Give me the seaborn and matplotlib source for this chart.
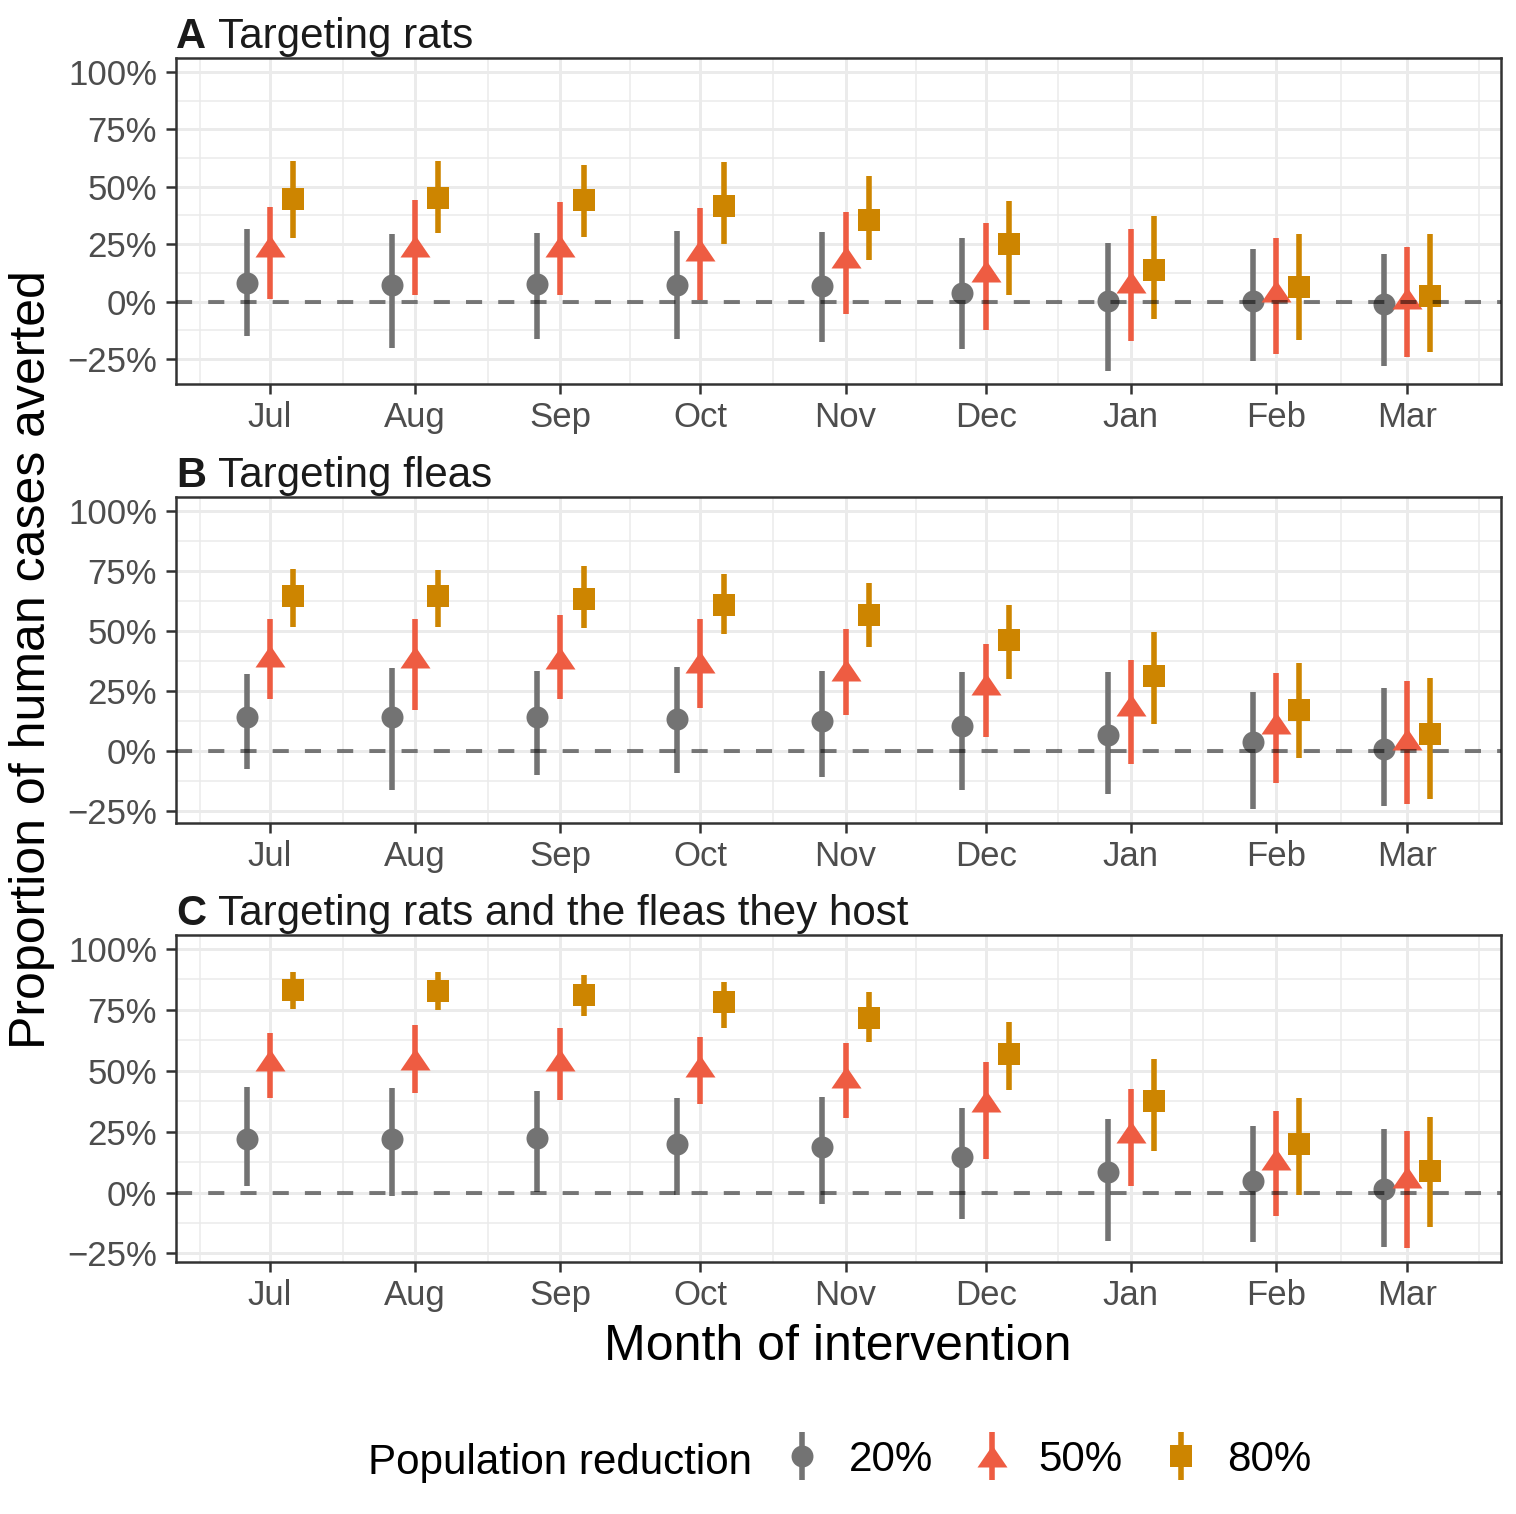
import numpy as np
import pandas as pd
import matplotlib
matplotlib.use("Agg")
import matplotlib.pyplot as plt
import matplotlib.dates as mdates
import matplotlib.transforms as mtransforms
from matplotlib.lines import Line2D
from matplotlib.legend_handler import HandlerTuple
from matplotlib.ticker import PercentFormatter, FixedLocator
import seaborn as sns

#: months of intervention (first day of each month)
months = ["2021-07-01", "2021-08-01", "2021-09-01", "2021-10-01", "2021-11-01",
          "2021-12-01", "2022-01-01", "2022-02-01", "2022-03-01"]
groups = ["20%", "50%", "80%"]

#: A - targeting rats (percent of human cases averted)
rats_mid = {"20%": [8.3, 7.1, 7.7, 7.3, 6.8, 3.9, 0.3, 0.3, -1.1],
            "50%": [24.4, 24.2, 24.4, 22.5, 19.3, 13.4, 8.4, 4.5, 1.8],
            "80%": [44.7, 45.3, 44.1, 41.6, 35.4, 25.2, 14.0, 6.4, 2.4]}
rats_lo = {"20%": [-14.8, -20.2, -16.3, -16.3, -17.4, -20.6, -30.1, -25.8, -28.0],
           "50%": [1.2, 2.8, 3.1, 0.7, -5.4, -12.3, -17.1, -22.8, -24.0],
           "80%": [27.9, 29.8, 28.3, 25.1, 18.2, 2.9, -7.7, -16.6, -21.8]}
rats_hi = {"20%": [31.5, 29.5, 29.8, 30.9, 30.1, 27.5, 25.4, 23.1, 20.8],
           "50%": [41.4, 44.3, 43.3, 40.7, 39.2, 34.2, 31.7, 27.9, 24.0],
           "80%": [61.0, 61.3, 59.6, 60.7, 54.5, 43.6, 37.3, 29.5, 29.5]}

#: B - targeting fleas
fleas_mid = {"20%": [13.9, 13.9, 14.2, 13.2, 12.4, 10.3, 6.5, 3.5, 0.7],
             "50%": [39.3, 39.0, 38.8, 37.1, 33.7, 27.7, 19.0, 11.4, 4.8],
             "80%": [64.4, 64.4, 63.3, 60.9, 56.4, 46.0, 31.2, 17.1, 7.1]}
fleas_lo = {"20%": [-7.8, -16.4, -10.3, -9.2, -10.8, -16.2, -18.2, -24.4, -23.2],
            "50%": [21.5, 17.0, 21.5, 17.7, 15.0, 5.7, -5.5, -13.3, -22.2],
            "80%": [51.5, 51.5, 51.3, 48.8, 43.3, 29.7, 11.1, -3.2, -20.3]}
fleas_hi = {"20%": [32.0, 34.3, 33.2, 34.9, 33.2, 32.9, 32.9, 24.6, 26.0],
            "50%": [54.7, 54.7, 56.5, 54.7, 50.8, 44.6, 37.8, 32.2, 29.2],
            "80%": [75.7, 75.3, 77.1, 73.5, 69.7, 60.7, 49.3, 36.4, 30.4]}

#: C - targeting rats and the fleas they host
both_mid = {"20%": [21.9, 21.9, 22.3, 20.0, 18.9, 14.5, 8.6, 4.9, 1.5],
            "50%": [54.2, 54.8, 54.2, 52.0, 47.3, 37.7, 24.7, 13.6, 6.2],
            "80%": [83.1, 82.7, 81.1, 78.1, 71.6, 56.9, 37.7, 19.8, 8.8]}
both_lo = {"20%": [2.5, -1.6, 0.2, -0.9, -4.8, -10.9, -19.7, -20.4, -22.4],
           "50%": [39.0, 40.8, 38.1, 36.4, 30.6, 13.7, 2.8, -9.6, -22.9],
           "80%": [75.5, 75.1, 72.3, 67.5, 61.6, 41.9, 17.1, -0.9, -14.2]}
both_hi = {"20%": [43.3, 43.1, 41.5, 39.0, 39.2, 34.7, 30.1, 27.5, 26.2],
           "50%": [65.5, 68.9, 67.4, 63.8, 61.4, 53.7, 42.6, 33.3, 25.3],
           "80%": [90.5, 90.5, 89.4, 86.3, 82.2, 70.0, 54.8, 38.8, 31.2]}

panels = [("A", "Targeting rats", rats_mid, rats_lo, rats_hi, (-0.358, 1.06)),
          ("B", "Targeting fleas", fleas_mid, fleas_lo, fleas_hi, (-0.301, 1.057)),
          ("C", "Targeting rats and the fleas they host", both_mid, both_lo, both_hi, (-0.285, 1.057))]

colors = {"20%": "#737373", "50%": "#EE5C42", "80%": "#CD8500"}
tri = [(-1, -0.733), (1, -0.733), (0, 0.733)]
markers = {"20%": "o", "50%": tri, "80%": "s"}
sizes = {"20%": 251, "50%": 467, "80%": 267}
dodge = {"20%": -5, "50%": 0, "80%": 5}   #: days


def long_df(mid, lo, hi):
    rows = []
    for g in groups:
        for m, v, l, h in zip(months, mid[g], lo[g], hi[g]):
            rows.append({"month": pd.Timestamp(m), "group": g,
                         "x": pd.Timestamp(m) + pd.Timedelta(days=dodge[g]),
                         "mid": v / 100, "lo": l / 100, "hi": h / 100})
    return pd.DataFrame(rows)


sns.set_style("white")
plt.rcParams['font.family'] = ['Liberation Sans', 'DejaVu Sans']
plt.rcParams['axes.unicode_minus'] = True
plt.rcParams['text.color'] = 'black'

fig = plt.figure(figsize=(15.16, 15.14), dpi=100)
W, H = 1516, 1514
tops = [58, 497, 935]
bottoms = [384, 823, 1262]
left, right = 176, 1501

first = mdates.date2num(pd.Timestamp(months[0]))
last = mdates.date2num(pd.Timestamp(months[-1]))
edges = mdates.date2num(pd.date_range("2021-06-01", "2022-04-01", freq="MS"))
minor_x = (edges[:-1] + edges[1:]) / 2

for (letter, title, mid, lo, hi, ylim), top, bot in zip(panels, tops, bottoms):
    ax = fig.add_axes([left / W, 1 - bot / H, (right - left) / W, (bot - top) / H])
    df = long_df(mid, lo, hi)
    for k, g in enumerate(groups):
        d = df[df.group == g]
        ax.vlines(d["x"], d["lo"], d["hi"], color=colors[g], lw=4.0, zorder=3 + 2 * k)
        sns.scatterplot(data=d, x="x", y="mid", color=colors[g], marker=markers[g],
                        s=sizes[g], linewidth=0, ax=ax, zorder=4 + 2 * k, legend=False)
    ax.axhline(0, color="black", alpha=0.5, lw=2.9, ls=(0, (4, 4)), zorder=20)

    ax.set_xlim(first - 20.1, last + 20.1)
    ax.set_ylim(*ylim)
    ax.xaxis.set_major_locator(mdates.MonthLocator())
    ax.xaxis.set_major_formatter(mdates.DateFormatter("%b"))
    ax.xaxis.set_minor_locator(FixedLocator(minor_x))
    ax.yaxis.set_major_locator(FixedLocator([-0.25, 0, 0.25, 0.5, 0.75, 1.0]))
    ax.yaxis.set_minor_locator(FixedLocator([-0.375, -0.125, 0.125, 0.375, 0.625, 0.875]))
    ax.yaxis.set_major_formatter(PercentFormatter(xmax=1, decimals=0))
    ax.set_axisbelow(True)
    ax.grid(which="major", color="#EBEBEB", lw=2.1)
    ax.grid(which="minor", color="#EBEBEB", lw=1.1)
    ax.tick_params(which="major", length=7.2, width=1.8, color="#333333",
                   labelsize=25, labelcolor="#4D4D4D", bottom=True, left=True)
    ax.tick_params(axis="x", pad=5.0)
    ax.tick_params(axis="y", pad=6.5)
    ax.tick_params(which="minor", length=0)
    for sp in ax.spines.values():
        sp.set_color("#333333")
        sp.set_linewidth(1.8)
    ax.set_xlabel("")
    ax.set_ylabel("")

    tr = mtransforms.offset_copy(ax.transAxes, fig=fig, x=0, y=7.0, units="points")
    ax.text(0, 1, letter, transform=tr, fontsize=30, fontweight="bold",
            color="#1A1A1A", ha="left", va="baseline")
    tr2 = mtransforms.offset_copy(ax.transAxes, fig=fig, x=30.2, y=7.0, units="points")
    ax.text(0, 1, title, transform=tr2, fontsize=30.3, color="#1A1A1A",
            ha="left", va="baseline")

fig.text(837.5 / W, 1 - 1360 / H, "Month of intervention", fontsize=36,
         ha="center", va="baseline")
fig.text(32 / W, 1 - 660 / H, "Proportion of human cases averted", fontsize=36,
         rotation=90, ha="center", va="center")

#: legend: title on the left, keys as vertical line + marker
fig.text(368 / W, 1 - 1474 / H, "Population reduction", fontsize=30.3,
         ha="left", va="baseline")
legend_ms = {"20%": 15.8, "50%": 21.6, "80%": 16.3}
handles = []
for g in groups:
    line = Line2D([], [], ls="none", marker="|", ms=34.6, mew=4.0, color=colors[g])
    pt = Line2D([], [], ls="none", marker=markers[g], ms=legend_ms[g],
                mew=0, color=colors[g])
    handles.append((line, pt))
fig.legend(handles, groups, handler_map={tuple: HandlerTuple(ndivide=1)},
           ncol=3, frameon=False, fontsize=30.3, handlelength=1.0, handletextpad=0.6,
           columnspacing=0.9, loc="center", bbox_to_anchor=(1046.5 / W, 1 - 1460 / H),
           bbox_transform=fig.transFigure)

fig.savefig("out.png", dpi=100)
